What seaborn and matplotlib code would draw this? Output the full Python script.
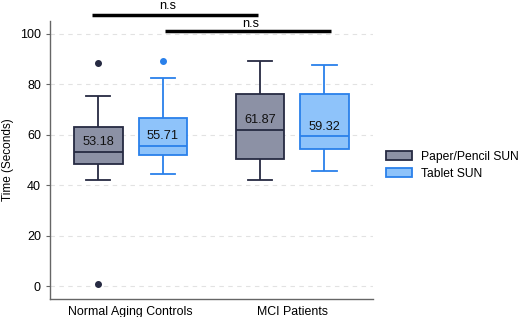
import pandas as pd
import matplotlib
matplotlib.use('Agg')
import matplotlib.pyplot as plt
import matplotlib.patches as mpatches
import seaborn as sns

groups = ['Normal Aging Controls', 'MCI Patients']
tests = ['Paper/Pencil SUN', 'Tablet SUN']

# sample values per box (whiskers, quartiles, median, outliers)
nac_paper = [1.0, 42.1, 48.4, 50.5, 53.3, 58.0, 63.0, 75.3, 88.2]
nac_tablet = [44.6, 48.0, 52.0, 54.0, 55.6, 60.0, 66.5, 82.3, 89.1]
mci_paper = [41.9, 46.0, 50.4, 56.0, 61.9, 68.0, 75.9, 82.0, 89.0]
mci_tablet = [45.7, 50.0, 54.3, 57.0, 59.3, 66.0, 76.0, 81.0, 87.4]

# numbers written inside the boxes
box_labels = [['53.18', '61.87'], ['55.71', '59.32']]
label_y = [[56.9, 65.7], [59.3, 63.1]]

face_colors = ['#8c91a5', '#8ec3fa']
edge_colors = ['#262a42', '#2a80ea']

rows = []
for g, p, t in [(groups[0], nac_paper, nac_tablet), (groups[1], mci_paper, mci_tablet)]:
    for v in p:
        rows.append((g, tests[0], v))
    for v in t:
        rows.append((g, tests[1], v))
df = pd.DataFrame(rows, columns=['group', 'test', 'time'])

plt.rcParams['font.family'] = ['Liberation Sans', 'DejaVu Sans']
fig = plt.figure(figsize=(5.2, 3.17), dpi=100)
ax = fig.add_axes([0.096, 0.057, 0.621, 0.877])

sns.boxplot(data=df, x='group', y='time', hue='test', order=groups, hue_order=tests,
            palette=face_colors, saturation=1, width=0.8, gap=0.25, linewidth=1.3,
            flierprops=dict(marker='o', markersize=4), legend=False, ax=ax)

for i, c in enumerate(ax.containers):
    col = edge_colors[i]
    for b in c.boxes:
        b.set_edgecolor(col)
    for ln in list(c.medians) + list(c.whiskers) + list(c.caps):
        ln.set_color(col)
    for f in c.fliers:
        f.set_markerfacecolor(col)
        f.set_markeredgecolor(col)

# labels in the boxes
offs = [-0.2, 0.2]
for h in range(2):
    for g in range(2):
        ax.text(g + offs[h], label_y[h][g], box_labels[h][g], ha='center', va='center',
                fontsize=9.2, color='#111111')

ax.set_ylim(-5, 105)
ax.set_xlim(-0.5, 1.5)
ax.set_yticks([0, 20, 40, 60, 80, 100])
ax.yaxis.grid(True, linestyle=(0, (4, 4)), color='#e2e2e2', linewidth=0.8)
ax.set_axisbelow(True)
for s in ['top', 'right']:
    ax.spines[s].set_visible(False)
for s in ['left', 'bottom']:
    ax.spines[s].set_color('#666666')
    ax.spines[s].set_linewidth(1.0)
ax.tick_params(axis='y', length=3, color='#666666', labelsize=9)
ax.tick_params(axis='x', length=0, labelsize=8.9, pad=5)
ax.set_xlabel('')
ax.set_ylabel('Time (Seconds)', fontsize=8.5, labelpad=4)

# significance bars
ax.plot([-0.24, 0.79], [107.3, 107.3], color='black', lw=2.5, clip_on=False, solid_capstyle='butt')
ax.text(0.23, 109.7, 'n.s', ha='center', va='baseline', fontsize=9.2, clip_on=False)
ax.plot([0.21, 1.24], [101.0, 101.0], color='black', lw=2.5, clip_on=False, solid_capstyle='butt')
ax.text(0.745, 102.5, 'n.s', ha='center', va='baseline', fontsize=9.2, clip_on=False)

handles = [mpatches.Patch(facecolor=face_colors[i], edgecolor=edge_colors[i], linewidth=1.3)
           for i in range(2)]
fig.legend(handles, tests, loc='center left', bbox_to_anchor=(0.721, 0.478), frameon=False,
           fontsize=8.7, handlelength=2.2, handleheight=0.8, handletextpad=0.7, labelspacing=0.4)

fig.savefig('out.png', dpi=100)
